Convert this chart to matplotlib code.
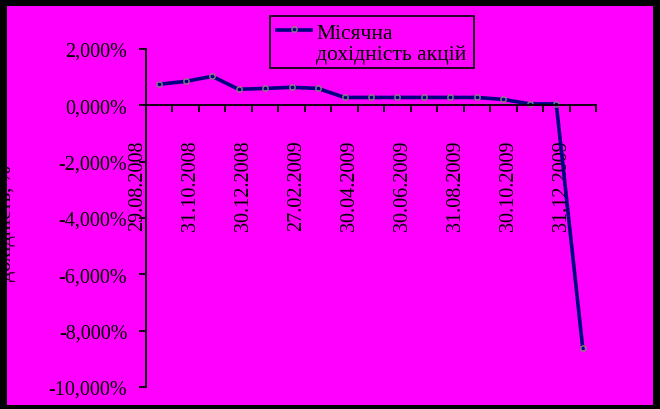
import matplotlib

matplotlib.use("Agg")

import matplotlib.pyplot as plt
import matplotlib.transforms as mtransforms
from matplotlib.lines import Line2D
from matplotlib.patches import Rectangle
from matplotlib.ticker import FixedLocator, FuncFormatter

# monthly share returns, % (one point per month, Aug 2008 - Dec 2009)
returns = [
    0.75, 0.85, 1.03, 0.57, 0.60, 0.64, 0.60, 0.28, 0.28,
    0.28, 0.28, 0.28, 0.28, 0.21, 0.05, 0.05, -8.63,
]
date_labels = [
    "29.08.2008", "31.10.2008", "30.12.2008", "27.02.2009", "30.04.2009",
    "30.06.2009", "31.08.2009", "30.10.2009", "31.12.2009",
]
y_ticks = [2, 0, -2, -4, -6, -8, -10]
series_name = "Місячна\nдохідність акцій"
y_title = "дохідність, %"

W, H = 660, 410
LINE_COLOR = "#000080"
MARKER_COLOR = "#808080"

plt.rcParams["font.family"] = ["Liberation Serif", "DejaVu Serif"]
plt.rcParams["font.size"] = 14.5

fig = plt.figure(figsize=(W / 100, H / 100), dpi=100, facecolor="black")


def fx(px):
    return px / W


def fy(py):
    return 1 - py / H


# magenta chart area inside the black frame
fig.patches.append(
    Rectangle((fx(7), fy(406)), 646 / W, 399 / H,
              transform=fig.transFigure, facecolor="#ff00ff",
              edgecolor="none", zorder=-10)
)

ax = fig.add_axes([fx(146), fy(388), 450 / W, 338 / H])
ax.set_facecolor("none")

x = list(range(len(returns)))
ax.plot(x, returns, color=LINE_COLOR, linewidth=2.6,
        marker="o", markersize=3.8, markerfacecolor="none",
        markeredgecolor=MARKER_COLOR, markeredgewidth=1.0)

ax.set_xlim(-0.5, len(returns) - 0.5)
ax.set_ylim(-10, 2)

for side in ("top", "right"):
    ax.spines[side].set_visible(False)
ax.spines["bottom"].set_position(("data", 0))
ax.spines["bottom"].set_linewidth(1.3)
ax.spines["left"].set_linewidth(1.3)

ax.set_yticks(y_ticks)
ax.yaxis.set_major_formatter(
    FuncFormatter(lambda v, _: f"{v:.3f}".replace(".", ",") + "%")
)
ax.tick_params(axis="y", direction="out", length=5, width=1.3, pad=8.5,
               colors="black")

ax.set_xticks(list(range(0, len(returns), 2)))
ax.set_xticklabels(date_labels, rotation=90)
ax.xaxis.set_minor_locator(FixedLocator([i - 0.5 for i in range(len(returns) + 1)]))
ax.tick_params(axis="x", which="major", length=0, pad=24.5)
ax.tick_params(axis="x", which="minor", direction="out", length=5, width=1.3)

shift = mtransforms.ScaledTranslation(-21.5 / 100, 0, fig.dpi_scale_trans)
for label in ax.get_xticklabels():
    label.set_transform(label.get_transform() + shift)

# legend box: handle sits on the first text line, as in the original
fig.patches.append(
    Rectangle((fx(270), fy(69)), 204 / W, 52 / H, transform=fig.transFigure,
              facecolor="none", edgecolor="black", linewidth=1.2)
)
fig.add_artist(Line2D([fx(277), fx(311)], [fy(31), fy(31)],
                      transform=fig.transFigure, color=LINE_COLOR,
                      linewidth=2.6))
fig.add_artist(Line2D([fx(294)], [fy(30)], transform=fig.transFigure,
                      linestyle="none", marker="o", markersize=3.8,
                      markerfacecolor="none", markeredgecolor=MARKER_COLOR,
                      markeredgewidth=1.0))
fig.text(fx(316), fy(25), series_name, ha="left", va="top",
         fontsize=15.5, linespacing=1.12)

fig.text(fx(16), fy(223), y_title, rotation=90, ha="right", va="center")

# black frame drawn over everything (hides most of the axis title)
fig.patches.append(
    Rectangle((0, 0), fx(7), 1, transform=fig.transFigure,
              facecolor="black", edgecolor="none", zorder=10)
)

fig.savefig("out.png", dpi=100, facecolor="black")
